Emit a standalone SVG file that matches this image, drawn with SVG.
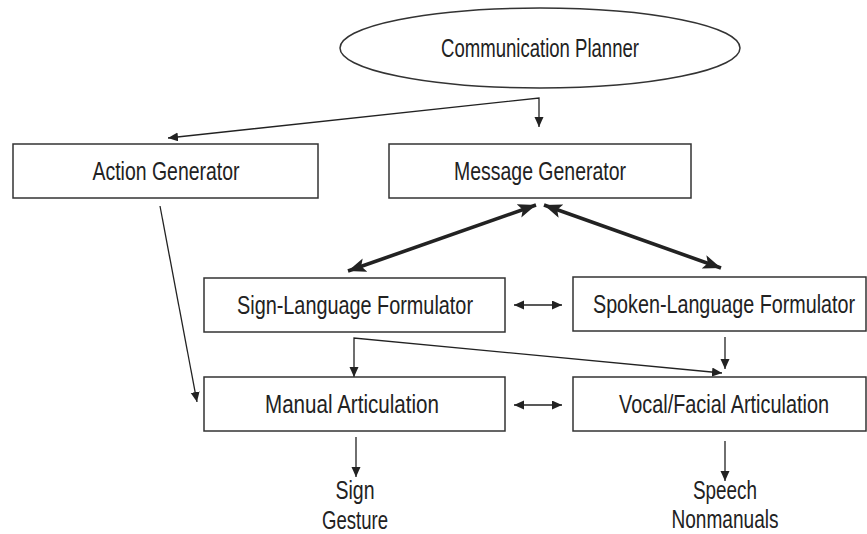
<svg xmlns="http://www.w3.org/2000/svg" width="867" height="534" viewBox="0 0 867 534">
<style>
.box{fill:#fff;stroke:#333;stroke-width:1.5}
.t{font-family:"Liberation Sans Narrow","Liberation Sans",Arial,sans-serif;font-size:25px;fill:#222;text-anchor:middle}
.thin{fill:none;stroke:#222;stroke-width:1.3}
.thick{fill:none;stroke:#222;stroke-width:3.6}
</style>
<defs>
<marker id="ah" markerUnits="userSpaceOnUse" markerWidth="12" markerHeight="10" refX="10" refY="4.5" orient="auto-start-reverse" viewBox="0 0 12 10">
<path d="M0,0 L10,4.5 L0,9 Z" fill="#222"/>
</marker>
<marker id="ahb" markerUnits="userSpaceOnUse" markerWidth="20" markerHeight="16" refX="18" refY="7" orient="auto-start-reverse" viewBox="0 0 20 16">
<path d="M0,0 L18,7 L0,14 L4,7 Z" fill="#222"/>
</marker>
</defs>
<rect width="867" height="534" fill="#fff"/>
<g id="connectors">
<polyline class="thin" points="168,138 539,98 539,127" marker-start="url(#ah)" marker-end="url(#ah)"/>
<line class="thin" x1="160" y1="206" x2="197" y2="402" marker-end="url(#ah)"/>
<line class="thick" x1="536" y1="205" x2="348" y2="271" marker-start="url(#ahb)" marker-end="url(#ahb)"/>
<line class="thick" x1="544" y1="205" x2="721" y2="268" marker-start="url(#ahb)" marker-end="url(#ahb)"/>
<line class="thin" x1="514" y1="305" x2="562" y2="305" marker-start="url(#ah)" marker-end="url(#ah)"/>
<line class="thin" x1="514" y1="405" x2="562" y2="405" marker-start="url(#ah)" marker-end="url(#ah)"/>
<polyline class="thin" points="354,377 354,338 722,373" marker-start="url(#ah)" marker-end="url(#ah)"/>
<line class="thin" x1="725" y1="337" x2="725" y2="369" marker-end="url(#ah)"/>
<line class="thin" x1="356" y1="437" x2="356" y2="477" marker-end="url(#ah)"/>
<line class="thin" x1="725" y1="441" x2="725" y2="481" marker-end="url(#ah)"/>
</g>
<g id="planner">
<ellipse class="box" cx="540" cy="48" rx="200" ry="40" stroke-width="1.2"/>
<text class="t" x="540" y="57" textLength="198" lengthAdjust="spacingAndGlyphs">Communication Planner</text>
</g>
<g id="action">
<rect class="box" x="13" y="144" width="305" height="54"/>
<text class="t" x="166" y="180" textLength="147" lengthAdjust="spacingAndGlyphs">Action Generator</text>
</g>
<g id="message">
<rect class="box" x="389" y="144" width="302" height="54"/>
<text class="t" x="540" y="180" textLength="172" lengthAdjust="spacingAndGlyphs">Message Generator</text>
</g>
<g id="signform">
<rect class="box" x="204" y="278" width="301" height="54"/>
<text class="t" x="355" y="314" textLength="236" lengthAdjust="spacingAndGlyphs">Sign-Language Formulator</text>
</g>
<g id="spokenform">
<rect class="box" x="573" y="277" width="293" height="54"/>
<text class="t" x="724" y="313" textLength="262" lengthAdjust="spacingAndGlyphs">Spoken-Language Formulator</text>
</g>
<g id="manual">
<rect class="box" x="204" y="377" width="301" height="54"/>
<text class="t" x="352" y="413" textLength="174" lengthAdjust="spacingAndGlyphs">Manual Articulation</text>
</g>
<g id="vocal">
<rect class="box" x="573" y="377" width="293" height="54"/>
<text class="t" x="724" y="413" textLength="210" lengthAdjust="spacingAndGlyphs">Vocal/Facial Articulation</text>
</g>
<g id="sign-out">
<text class="t" x="355" y="499" textLength="39" lengthAdjust="spacingAndGlyphs">Sign</text>
<text class="t" x="355" y="529" textLength="66" lengthAdjust="spacingAndGlyphs">Gesture</text>
</g>
<g id="speech-out">
<text class="t" x="725" y="499" textLength="64" lengthAdjust="spacingAndGlyphs">Speech</text>
<text class="t" x="725" y="528" textLength="107" lengthAdjust="spacingAndGlyphs">Nonmanuals</text>
</g>
</svg>
